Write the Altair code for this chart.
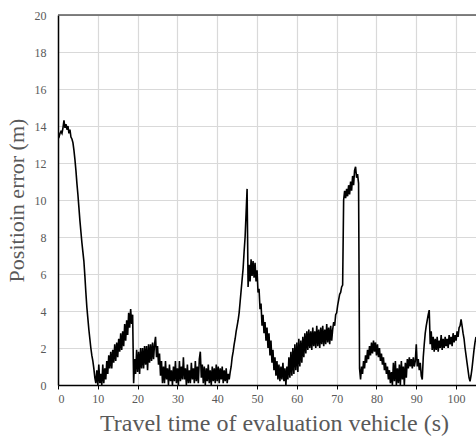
import altair as alt
import pandas as pd

# Position error of the evaluation vehicle, sampled every 0.25 s (one row = 5 s)
SAMPLE_STEP = 0.25
error_m = [
    # 0 - 5 s
    13.3, 13.4, 13.6, 13.7, 13.6, 13.9, 14.3, 13.9, 14.1, 13.8, 14.0, 13.6, 13.8, 13.4, 13.3, 13.1, 12.7, 12.2, 11.6, 10.9,
    # 5 - 10 s
    10.3, 9.6, 8.9, 8.3, 7.7, 7.2, 6.7, 5.9, 5.0, 4.2, 3.6, 3.0, 2.5, 2.0, 1.6, 1.3, 0.9, 0.4, 0.1, 0.8,
    # 10 - 15 s
    0.0, 1.1, 0.1, 0.6, 0.0, 1.1, 0.1, 0.9, 0.3, 1.3, 0.6, 1.6, 0.9, 1.8, 0.9, 1.9, 1.2, 2.2, 1.3, 2.3,
    # 15 - 20 s
    1.5, 2.5, 1.8, 2.8, 1.9, 2.9, 2.1, 3.3, 2.4, 3.5, 2.7, 3.9, 3.1, 4.1, 3.3, 3.8, 0.1, 1.4, 0.6, 1.9,
    # 20 - 25 s
    0.7, 1.8, 0.6, 2.0, 0.9, 2.0, 0.9, 2.1, 1.1, 2.1, 0.8, 2.2, 1.2, 2.2, 1.3, 2.3, 1.4, 2.2, 2.6, 1.5,
    # 25 - 30 s
    2.1, 1.1, 1.7, 0.5, 1.3, 0.1, 1.0, 0.1, 1.3, 0.3, 0.9, 0.0, 1.1, 0.2, 0.8, 0.0, 1.0, 0.2, 1.3, 0.1,
    # 30 - 35 s
    0.9, 0.0, 1.3, 0.2, 1.0, 0.3, 1.5, 0.3, 0.9, 0.0, 1.1, 0.1, 0.8, 0.1, 1.2, 0.3, 0.9, 0.1, 1.3, 0.2,
    # 35 - 40 s
    1.0, 0.1, 1.4, 1.8, 0.4, 1.1, 0.1, 1.0, 0.0, 0.9, 0.2, 1.1, 0.1, 0.8, 0.0, 1.0, 0.2, 0.9, 0.1, 1.1,
    # 40 - 45 s
    0.2, 1.0, 0.1, 0.9, 0.3, 1.0, 0.1, 0.8, 0.2, 0.9, 0.1, 0.6, 0.3, 0.7, 1.0, 1.5, 1.8, 2.2, 2.5, 2.9,
    # 45 - 50 s
    3.2, 3.5, 3.9, 4.5, 5.1, 5.7, 6.3, 7.2, 8.0, 9.3, 10.6, 5.3, 6.5, 5.6, 6.8, 5.9, 6.7, 5.8, 6.6, 5.6,
    # 50 - 55 s
    6.2, 5.0, 5.2, 4.1, 4.4, 3.2, 3.8, 2.8, 3.4, 2.4, 3.1, 2.0, 2.8, 1.6, 2.4, 1.2, 1.9, 0.8, 1.5, 0.5,
    # 55 - 60 s
    1.3, 0.3, 1.1, 0.2, 1.0, 0.3, 1.2, 0.2, 0.9, 0.0, 1.0, 0.3, 1.5, 0.4, 1.8, 0.5, 2.0, 0.6, 2.2, 0.8,
    # 60 - 65 s
    2.3, 0.7, 2.5, 1.0, 2.4, 1.2, 2.6, 1.5, 2.8, 1.7, 2.9, 1.9, 3.0, 2.0, 2.9, 1.9, 3.1, 2.1, 2.9, 2.0,
    # 65 - 70 s
    3.2, 2.1, 3.0, 2.0, 3.1, 2.2, 3.2, 2.1, 3.0, 2.2, 3.3, 2.3, 3.1, 2.2, 3.2, 2.4, 3.0, 3.4, 3.2, 3.8,
    # 70 - 75 s
    3.9, 4.3, 4.6, 4.9, 5.0, 5.3, 5.4, 10.0, 10.5, 10.1, 10.6, 10.2, 10.8, 10.3, 11.0, 10.5, 11.3, 10.8, 11.6, 11.8,
    # 75 - 80 s
    11.2, 11.4, 10.9, 0.9, 0.3, 1.0, 0.6, 1.3, 0.9, 1.6, 1.2, 1.9, 1.4, 2.1, 1.6, 2.3, 1.7, 2.4, 1.8, 2.3,
    # 80 - 85 s
    1.6, 2.2, 1.5, 2.0, 1.3, 1.7, 1.1, 1.5, 0.8, 1.2, 0.6, 1.0, 0.3, 0.8, 0.1, 0.7, 0.0, 1.2, 0.2, 1.3,
    # 85 - 90 s
    0.0, 0.9, 0.1, 1.1, 0.0, 1.3, 0.3, 1.0, 0.0, 1.2, 0.4, 1.4, 0.9, 1.5, 1.0, 1.4, 0.9, 1.5, 1.0, 1.3,
    # 90 - 95 s
    2.2, 1.0, 1.4, 0.8, 1.2, 0.5, 0.3, 1.5, 2.2, 2.8, 3.2, 3.5, 3.8, 4.05, 2.2, 2.9, 1.9, 2.6, 1.8, 2.5,
    # 95 - 100 s
    1.9, 2.6, 1.8, 2.4, 2.0, 2.7, 1.9, 2.5, 2.0, 2.6, 2.1, 2.5, 2.0, 2.7, 2.2, 2.6, 2.1, 2.8, 2.3, 2.7,
    # 100 - 105 s
    2.4, 2.9, 2.6, 3.1, 3.2, 3.55, 3.2, 2.8, 2.5, 2.0, 1.6, 1.2, 0.8, 0.4, 0.2, 0.5, 0.9, 1.4, 1.9, 2.3,
    2.6,
]
time_s = [i * SAMPLE_STEP for i in range(len(error_m))]

x_ticks = [0, 10, 20, 30, 40, 50, 60, 70, 80, 90, 100]
y_ticks = [0, 2, 4, 6, 8, 10, 12, 14, 16, 18, 20]
X_MAX = 105
Y_MAX = 20

FONT = "Liberation Serif"
TEXT_GREY = "#595959"
GRID_GREY = "#d9d9d9"

df = pd.DataFrame({"t": time_s, "err": error_m})

x_scale = alt.Scale(domain=[0, X_MAX], nice=False, zero=False)
y_scale = alt.Scale(domain=[0, Y_MAX], nice=False)

x_axis = alt.Axis(
    values=x_ticks,
    title="Travel time of evaluation vehicle  (s)",
    titleFont=FONT,
    titleFontSize=24,
    titleFontWeight="normal",
    titleColor=TEXT_GREY,
    titlePadding=7,
    titleX=216,
    titleAlign="center",
    labelFont=FONT,
    labelFontSize=12,
    labelColor=TEXT_GREY,
    labelPadding=4,
    labelOverlap=False,
    ticks=True,
    tickSize=4,
    tickColor="black",
    domainColor="black",
    domainWidth=1.5,
    grid=True,
    gridColor=GRID_GREY,
    gridWidth=1.2,
)
y_axis = alt.Axis(
    values=y_ticks,
    title="Positioin error (m)",
    titleFont=FONT,
    titleFontSize=22,
    titleFontWeight="normal",
    titleColor=TEXT_GREY,
    titlePadding=6,
    labelFont=FONT,
    labelFontSize=12,
    labelColor=TEXT_GREY,
    labelPadding=12,
    labelOverlap=False,
    ticks=False,
    domainColor="black",
    domainWidth=1.5,
    grid=True,
    gridColor=GRID_GREY,
    gridWidth=1.2,
)

line = alt.Chart(df).mark_line(color="black", strokeWidth=1.6, clip=True).encode(
    x=alt.X("t:Q", scale=x_scale, axis=x_axis),
    y=alt.Y("err:Q", scale=y_scale, axis=y_axis),
)

# Upper frame line of the plot area
frame_top = pd.DataFrame({"t": [0], "t_end": [X_MAX], "err": [Y_MAX]})
top_rule = alt.Chart(frame_top).mark_rule(color="#595959", strokeWidth=1.5).encode(
    x=alt.X("t:Q", scale=x_scale, axis=x_axis),
    x2="t_end:Q",
    y=alt.Y("err:Q", scale=y_scale, axis=y_axis),
)

chart = (
    alt.layer(line, top_rule)
    .properties(
        width=418,
        height=370,
        autosize=alt.AutoSizeParams(type="none"),
        padding={"left": 58, "top": 15, "right": 0, "bottom": 56},
        background="white",
    )
    .configure_view(stroke=None)
)

chart.save("out.html", embed_options={"renderer": "svg", "actions": False})
